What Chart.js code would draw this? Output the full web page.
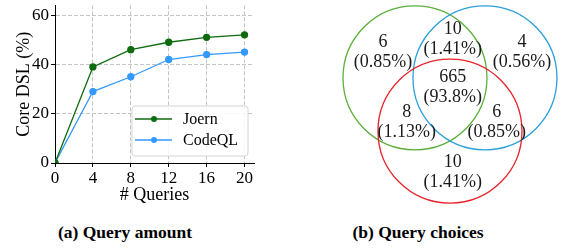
<!DOCTYPE html>
<html>
<head>
<meta charset="utf-8">
<script src="https://cdn.jsdelivr.net/npm/chart.js@4.4.0/dist/chart.umd.min.js"></script>
<style>
  html, body { margin: 0; padding: 0; background: #fff; }
  #wrap { position: relative; width: 562px; height: 248px; overflow: hidden; }
  #lineChart { position: absolute; left: 0; top: 0; }
  #vennChart { position: absolute; left: 280px; top: 0; }
  .cap { position: absolute; top: 222px; font: bold 17.5px 'Liberation Serif', serif; line-height: 20px;
         color: #000; white-space: nowrap; transform: translateX(-50%); }
</style>
</head>
<body>
<div id="wrap">
  <canvas id="lineChart" width="280" height="210"></canvas>
  <canvas id="vennChart" width="282" height="210"></canvas>
  <div class="cap" style="left:125px">(a) Query amount</div>
  <div class="cap" style="left:418px">(b) Query choices</div>
</div>
<script>
// Line chart data
const queryCounts = [0, 4, 8, 12, 16, 20];
const joernPct = [0, 39, 46, 49, 51, 52];
const codeqlPct = [0, 29, 35, 42, 44, 45];

// Venn data (units: circle radius = 1)
const circleX = [-0.486, 0.486, 0];
const circleY = [0.37, 0.37, -0.37];
const circleColors = ['#5aaf3a', '#2b9fd9', '#e8232a'];
const regionCounts = [6, 10, 4, 665, 8, 6, 10];
const regionX = [-0.93, 0.04, 1.0, 0.04, -0.6, 0.65, 0.04];
const regionY = [0.73, 0.91, 0.73, 0.24, -0.25, -0.25, -0.94];

const SERIF = "'Liberation Serif', 'Times New Roman', serif";
Chart.defaults.font.family = SERIF;
Chart.defaults.color = '#000';

const toPoints = (xs, ys) => xs.map((x, i) => ({ x: x, y: ys[i] }));

// legend drawn inside the plot, bottom right
const boxLegend = {
  id: 'boxLegend',
  afterDatasetsDraw(chart) {
    const ctx = chart.ctx;
    const area = chart.chartArea;
    const x0 = area.right - 122, y0 = area.bottom - 57, w = 116, h = 50;
    ctx.save();
    ctx.beginPath();
    ctx.roundRect(x0, y0, w, h, 3);
    ctx.fillStyle = 'rgba(255,255,255,0.85)';
    ctx.fill();
    ctx.strokeStyle = '#d4d4d4';
    ctx.lineWidth = 1;
    ctx.stroke();
    ctx.font = '16px ' + SERIF;
    ctx.textBaseline = 'middle';
    chart.data.datasets.forEach((ds, i) => {
      const y = y0 + 13 + i * 21;
      ctx.strokeStyle = ds.borderColor;
      ctx.lineWidth = 1.3;
      ctx.beginPath();
      ctx.moveTo(x0 + 3, y);
      ctx.lineTo(x0 + 40, y);
      ctx.stroke();
      ctx.fillStyle = ds.borderColor;
      ctx.beginPath();
      ctx.arc(x0 + 22, y, 3, 0, Math.PI * 2);
      ctx.fill();
      ctx.fillStyle = '#000';
      ctx.fillText(ds.label, x0 + 51, y + 1);
    });
    ctx.restore();
  }
};

const axisCommon = {
  type: 'linear',
  grid: { color: '#c4c4c4', tickColor: '#000', tickLength: 4, tickBorderDash: [] },
  border: { color: '#000', width: 1, dash: [4, 2] },
};

new Chart(document.getElementById('lineChart').getContext('2d'), {
  type: 'line',
  data: {
    datasets: [
      {
        label: 'Joern',
        data: toPoints(queryCounts, joernPct),
        borderColor: '#0e6b0e',
        backgroundColor: '#0e6b0e',
        borderWidth: 1.3,
        pointRadius: 3,
        tension: 0
      },
      {
        label: 'CodeQL',
        data: toPoints(queryCounts, codeqlPct),
        borderColor: '#3399ff',
        backgroundColor: '#3399ff',
        borderWidth: 1.3,
        pointRadius: 3,
        tension: 0
      }
    ]
  },
  options: {
    responsive: false,
    animation: false,
    events: [],
    layout: { padding: { top: 5, right: 26, left: 0, bottom: 0 } },
    plugins: { legend: { display: false }, tooltip: { enabled: false } },
    scales: {
      x: {
        ...axisCommon,
        min: 0, max: 21,
        ticks: { stepSize: 4, includeBounds: false, font: { size: 17 }, padding: 1, maxRotation: 0 },
        title: { display: true, text: '# Queries', font: { size: 18 }, padding: { top: 0, bottom: 4 } },
        afterFit: s => { s.height = 47; s.paddingLeft = 0; s.paddingRight = 0; }
      },
      y: {
        ...axisCommon,
        min: 0, max: 64,
        ticks: { stepSize: 20, includeBounds: false, font: { size: 17 }, padding: 2 },
        title: { display: true, text: 'Core DSL (%)', font: { size: 18 }, padding: { top: 13, bottom: 0 } },
        afterFit: s => { s.width = 55; s.paddingTop = 0; s.paddingBottom = 0; }
      }
    }
  },
  plugins: [boxLegend]
});

// Venn diagram
const total = regionCounts.reduce((a, b) => a + b, 0);
const unitPx = chart => Math.abs(chart.scales.x.getPixelForValue(1) - chart.scales.x.getPixelForValue(0));

const vennLabels = {
  id: 'vennLabels',
  afterDatasetsDraw(chart) {
    const ctx = chart.ctx;
    const sx = chart.scales.x, sy = chart.scales.y;
    ctx.save();
    ctx.font = '18px ' + SERIF;
    ctx.fillStyle = '#1a1a1a';
    ctx.textAlign = 'center';
    ctx.textBaseline = 'middle';
    regionCounts.forEach((c, i) => {
      const px = sx.getPixelForValue(regionX[i]);
      const py = sy.getPixelForValue(regionY[i]);
      const pct = c / total * 100;
      const pctText = '(' + (pct >= 10 ? pct.toFixed(1) : pct.toFixed(2)) + '%)';
      ctx.fillText(String(c), px, py - 10);
      ctx.fillText(pctText, px, py + 10);
    });
    ctx.restore();
  }
};

new Chart(document.getElementById('vennChart').getContext('2d'), {
  type: 'scatter',
  data: {
    datasets: [{
      data: toPoints(circleX, circleY),
      pointRadius: ctx => unitPx(ctx.chart),
      pointBorderColor: circleColors,
      pointBackgroundColor: 'rgba(0,0,0,0)',
      pointBorderWidth: 1.3,
      clip: false
    }]
  },
  options: {
    responsive: false,
    animation: false,
    events: [],
    layout: { padding: 0 },
    plugins: { legend: { display: false }, tooltip: { enabled: false } },
    scales: {
      x: { type: 'linear', display: false, min: -2.361, max: 1.556 },
      y: { type: 'linear', display: false, min: -1.465, max: 1.451 }
    }
  },
  plugins: [vennLabels]
});
</script>
</body>
</html>
